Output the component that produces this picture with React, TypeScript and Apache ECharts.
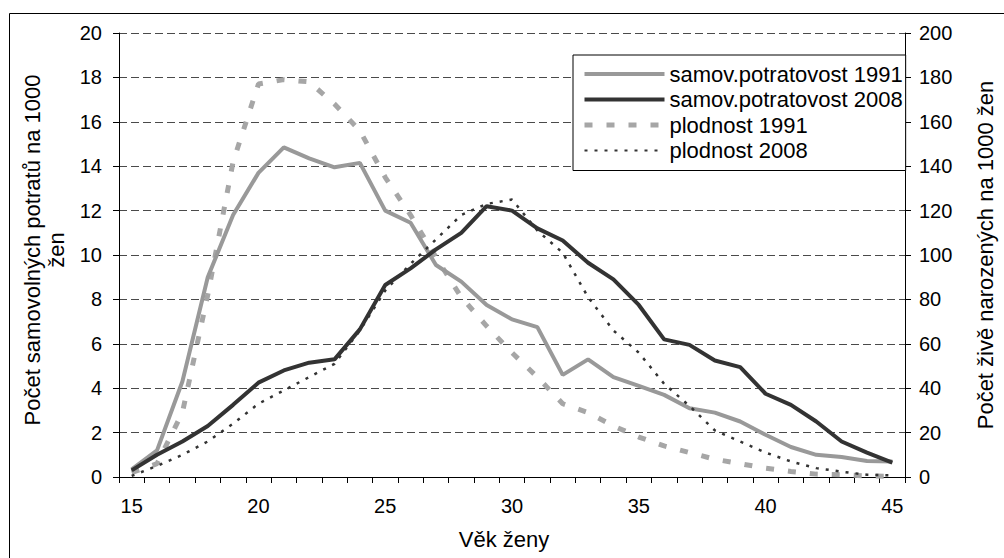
import React, { useEffect, useRef } from "react";
import * as echarts from "echarts";

const ages = ["15","16","17","18","19","20","21","22","23","24","25","26","27","28","29","30","31","32","33","34","35","36","37","38","39","40","41","42","43","44","45"];

const potrat1991 = [0.35, 1.2, 4.3, 9.0, 11.8, 13.7, 14.85, 14.35, 13.95, 14.15, 12.0, 11.45, 9.55, 8.8, 7.75, 7.1, 6.75, 4.6, 5.3, 4.5, 4.1, 3.7, 3.1, 2.9, 2.5, 1.9, 1.35, 1.0, 0.9, 0.72, 0.7];
const potrat2008 = [0.3, 1.0, 1.6, 2.3, 3.25, 4.25, 4.8, 5.15, 5.3, 6.65, 8.65, 9.4, 10.25, 11.0, 12.2, 12.0, 11.2, 10.65, 9.65, 8.9, 7.75, 6.2, 5.95, 5.25, 4.95, 3.75, 3.25, 2.5, 1.6, 1.1, 0.65];
const plodnost1991 = [2, 6, 29, 82, 142, 177, 179, 178, 168, 156, 135, 118, 99, 81, 68, 56, 45, 33, 29, 23, 18, 14, 11, 8, 6, 4, 2.5, 1.3, 1, 0.5, 0.3];
const plodnost2008 = [0.5, 5, 10, 16, 24, 33, 39, 45, 51, 66, 84, 96, 107, 118, 123, 125, 111, 101, 81, 66, 56, 42, 32, 21, 16, 11, 7, 4, 2.4, 1, 0.7];

const seriesNames = ["samov.potratovost 1991", "samov.potratovost 2008", "plodnost 1991", "plodnost 2008"];
const leftTitle = "Počet samovolných potratů na 1000\nžen";
const rightTitle = "Počet živě narozených na 1000 žen";
const xTitle = "Věk ženy";

const FONT = "'Liberation Sans', Arial, sans-serif";

export default function App() {
  const ref = useRef<HTMLDivElement>(null);
  useEffect(() => {
    if (!ref.current) return;
    const chart = echarts.init(ref.current, null, { renderer: "svg" });
    const option = {
      animation: false,
      backgroundColor: "#fff",
      textStyle: { fontFamily: FONT, color: "#000" },
      grid: { left: 119, right: 84, top: 33, bottom: 81, containLabel: false },
      graphic: [
        {
          type: "rect",
          shape: { x: 9.5, y: 13.5, width: 1100, height: 700 },
          style: { fill: "none", stroke: "#000", lineWidth: 1 },
          silent: true,
          z: -10,
        },
      ],
      legend: {
        orient: "vertical",
        left: 573,
        top: 55,
        padding: [8, 3, 9, 9],
        itemGap: 3.5,
        itemWidth: 80,
        itemHeight: 14,
        borderColor: "#000",
        borderWidth: 1,
        backgroundColor: "#fff",
        itemStyle: { opacity: 0, borderWidth: 0 },
        textStyle: { fontSize: 22, color: "#000", fontFamily: FONT, lineHeight: 22 },
        data: [
          { name: seriesNames[0], lineStyle: { width: 4 } },
          { name: seriesNames[1], lineStyle: { width: 4 } },
          { name: seriesNames[2], lineStyle: { width: 5 } },
          { name: seriesNames[3], lineStyle: { width: 2 } },
        ],
      },
      xAxis: {
        type: "category",
        data: ages,
        boundaryGap: true,
        name: xTitle,
        nameLocation: "middle",
        nameGap: 51,
        nameTextStyle: { fontSize: 22, color: "#000", fontFamily: FONT, padding: [0, 16, 0, 0] },
        axisLine: { show: true, lineStyle: { color: "#000", width: 1 } },
        axisTick: { show: true, interval: 0, length: 6, lineStyle: { color: "#000" } },
        axisLabel: {
          interval: (i: number) => i % 5 === 0,
          fontSize: 20,
          color: "#000",
          margin: 19,
          fontFamily: FONT,
        },
        splitLine: { show: false },
      },
      yAxis: [
        {
          type: "value",
          min: 0,
          max: 20,
          interval: 2,
          position: "left",
          name: leftTitle,
          nameLocation: "middle",
          nameRotate: 90,
          nameGap: 38,
          nameTextStyle: { fontSize: 22, color: "#000", fontFamily: FONT, lineHeight: 24, padding: [0, 0, 0, 10] },
          axisLine: { show: true, lineStyle: { color: "#000", width: 1 } },
          axisTick: { show: true, length: 6, lineStyle: { color: "#000" } },
          axisLabel: { fontSize: 20, color: "#000", margin: 17, fontFamily: FONT },
          splitLine: { show: true, lineStyle: { color: "#4a4a4a", width: 1, type: [8, 4] } },
        },
        {
          type: "value",
          min: 0,
          max: 200,
          interval: 20,
          position: "right",
          name: rightTitle,
          nameLocation: "middle",
          nameRotate: 90,
          nameGap: 69,
          nameTextStyle: { fontSize: 22, color: "#000", fontFamily: FONT },
          axisLine: { show: true, lineStyle: { color: "#000", width: 1 } },
          axisTick: { show: true, length: 6, lineStyle: { color: "#000" } },
          axisLabel: { fontSize: 20, color: "#000", margin: 14, fontFamily: FONT },
          splitLine: { show: false },
        },
      ],
      series: [
        {
          name: seriesNames[0],
          type: "line",
          data: potrat1991,
          yAxisIndex: 0,
          symbol: "none",
          color: "#999999",
          lineStyle: { color: "#999999", width: 4 },
          z: 3,
        },
        {
          name: seriesNames[1],
          type: "line",
          data: potrat2008,
          yAxisIndex: 0,
          symbol: "none",
          color: "#333333",
          lineStyle: { color: "#333333", width: 4 },
          z: 4,
        },
        {
          name: seriesNames[2],
          type: "line",
          data: plodnost1991,
          yAxisIndex: 1,
          symbol: "none",
          color: "#a6a6a6",
          lineStyle: { color: "#a6a6a6", width: 5, type: [8, 14], cap: "butt" },
          z: 2,
        },
        {
          name: seriesNames[3],
          type: "line",
          data: plodnost2008,
          yAxisIndex: 1,
          symbol: "none",
          color: "#333333",
          lineStyle: { color: "#333333", width: 2.5, type: [3, 7], cap: "butt" },
          z: 5,
        },
      ],
    };
    chart.setOption(option as any);
    return () => chart.dispose();
  }, []);
  return (
    <div
      ref={ref}
      style={{ position: "fixed", left: 0, top: 0, width: 1004, height: 558, background: "#fff" }}
    />
  );
}
